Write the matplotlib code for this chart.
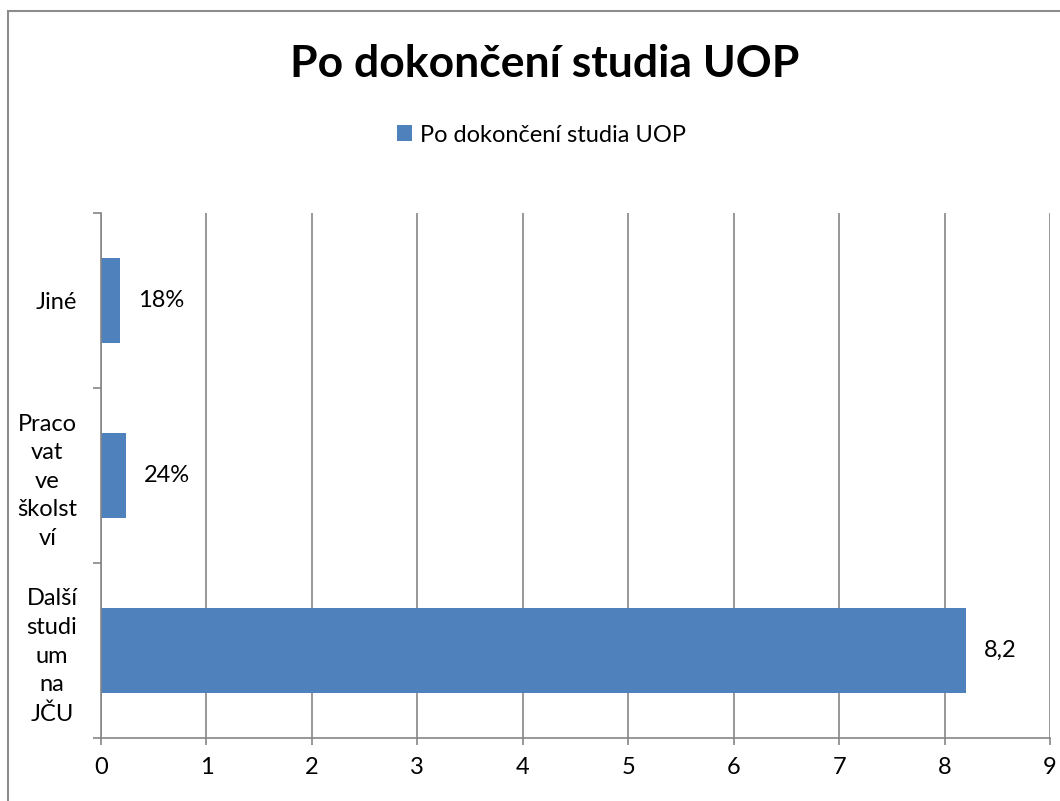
import matplotlib
matplotlib.use("Agg")
import matplotlib.pyplot as plt
from matplotlib.patches import Rectangle

categories = ["Další\nstudi\num\nna\nJČU", "Praco\nvat\nve\nškolst\nví", "Jiné"]
values = [8.2, 0.24, 0.18]
value_labels = ["8,2", "24%", "18%"]
series_name = "Po dokončení studia UOP"
x_ticks = list(range(0, 10))

plt.rcParams['font.family'] = ['Lato', 'DejaVu Sans']

bar_color = '#4F81BD'
line_color = '#868686'
fs = 17

fig = plt.figure(figsize=(10.6, 8.01), dpi=100)
ax = fig.add_axes([101 / 1060, 1 - 738 / 801, 949 / 1060, 525 / 801])

ypos = list(range(len(categories)))
ax.barh(ypos, values, height=0.49, color=bar_color, label=series_name, zorder=3)

for y, v, lab in zip(ypos, values, value_labels):
    ax.annotate(lab, (v, y), xytext=(13, 0), textcoords='offset points',
                va='center', ha='left', fontsize=fs)

ax.set_xlim(0, 9)
ax.set_ylim(-0.5, len(categories) - 0.5)
ax.set_xticks(x_ticks)
ax.set_xticklabels([str(t) for t in x_ticks], fontsize=fs)
ax.tick_params(axis='x', length=5, width=1.2, color=line_color, pad=9)

ax.set_yticks([-0.5, 0.5, 1.5, 2.5])
ax.set_yticklabels([])
ax.tick_params(axis='y', which='major', length=5.8, width=1.2, color=line_color)
ax.set_yticks(ypos, minor=True)
ax.set_yticklabels(categories, minor=True, fontsize=fs, multialignment='center',
                   linespacing=1.45)
ax.tick_params(axis='y', which='minor', length=0, pad=17)

ax.grid(axis='x', color=line_color, linewidth=1.2, zorder=0)
for side in ['top', 'right']:
    ax.spines[side].set_visible(False)
for side in ['left', 'bottom']:
    ax.spines[side].set_color(line_color)
    ax.spines[side].set_linewidth(1.2)
    ax.spines[side].set_zorder(4)

fig.text(0.514, 1 - 64 / 801, "Po dokončení studia UOP", ha='center', va='center',
         fontsize=32, fontweight='bold')

fig.legend(loc='center', bbox_to_anchor=(0.511, 1 - 135 / 801), frameon=False,
           fontsize=fs, handlelength=0.65, handleheight=0.65, handletextpad=0.35)

fig.patches.append(Rectangle((8 / 1060, -0.05), 1.1, 1 - 11 / 801 + 0.05,
                             transform=fig.transFigure, fill=False,
                             edgecolor='#8c8c8c', linewidth=1.5))

fig.savefig("out.png", dpi=100)
